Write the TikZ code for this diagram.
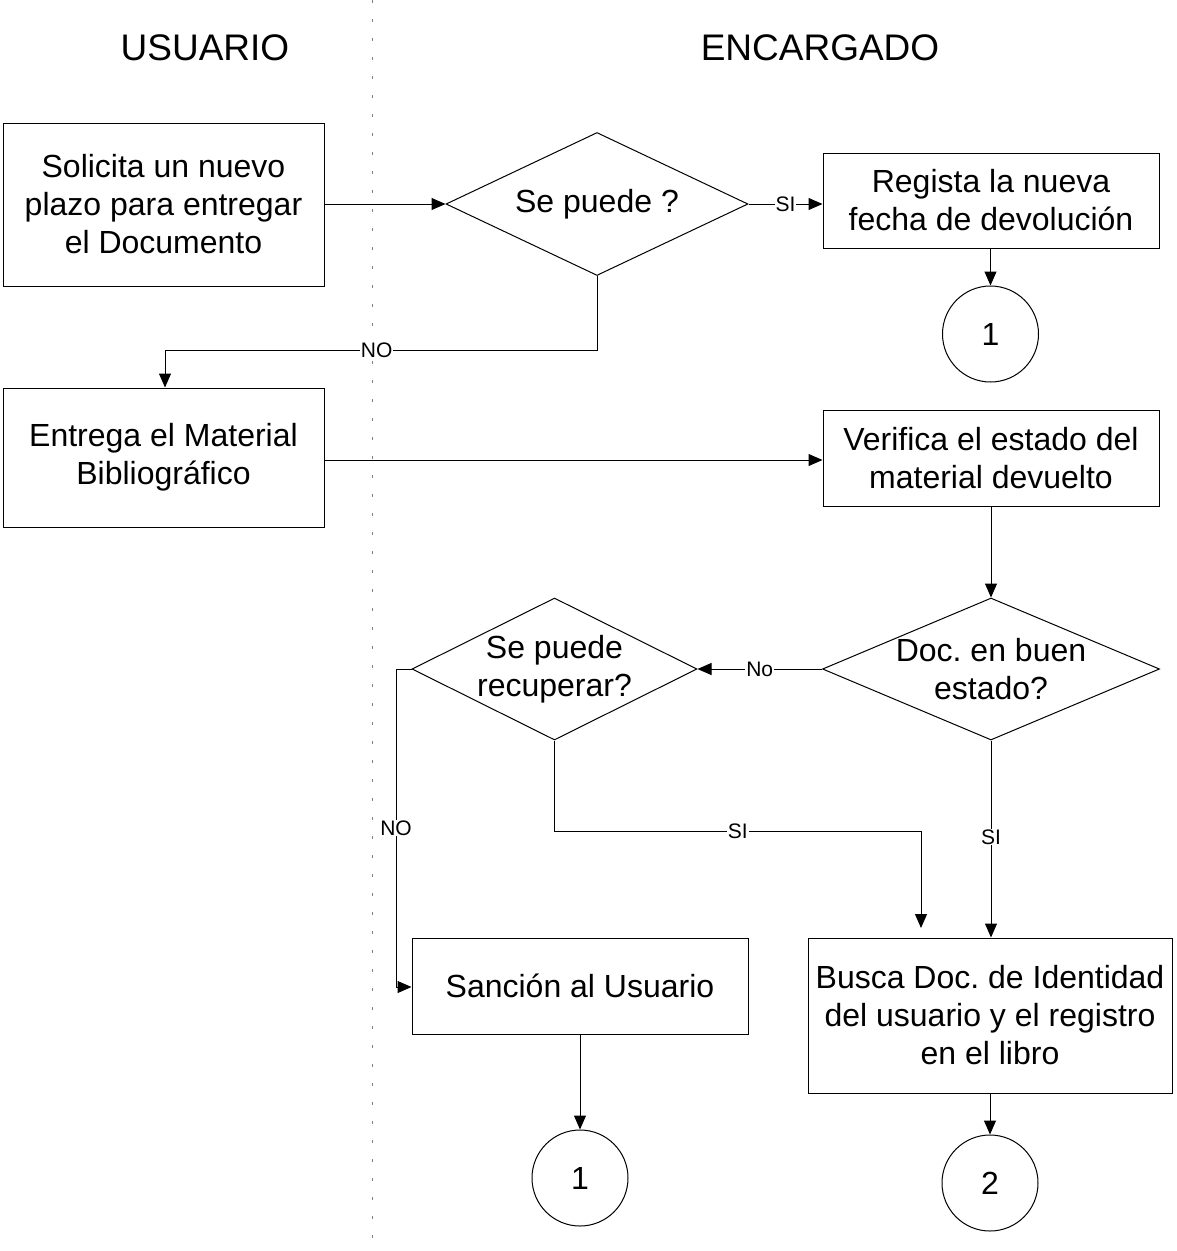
\documentclass[tikz,border=0pt]{standalone}
\usepackage{fontspec}
\setmainfont{Liberation Sans}
\usetikzlibrary{arrows.meta,shapes.geometric}
\frenchspacing

\begin{document}
\begin{tikzpicture}[x=1pt,y=-1pt,
  line width=1pt,
  every node/.style={font=\fontsize{32}{38}\selectfont, align=center},
  procbox/.style={draw, rectangle, inner sep=0pt},
  decision/.style={draw, diamond, inner sep=0pt},
  connector/.style={draw, circle, inner sep=0pt, minimum size=96pt},
  title/.style={font=\fontsize{37}{44}\selectfont},
  lbl/.style={fill=white, inner sep=1pt, font=\fontsize{21}{24}\selectfont},
  flow/.style={-{Triangle[length=14pt,width=12pt]}},
  lane/.style={draw=gray, line width=0.8pt, dash pattern=on 3pt off 16pt}
]
\useasboundingbox (0,0) rectangle (1176,1251);

% lane separator
\draw[lane] (372,0) -- (372,1251);

% lane titles
\node[title] (tuser) at (205,48) {USUARIO};
\node[title] (tenc) at (820,48) {ENCARGADO};

% process boxes
\node[procbox, minimum width=321pt, minimum height=163pt] (solicita) at (163.5,204.5)
  {Solicita un nuevo\\plazo para entregar\\el Documento};
\node[procbox, minimum width=336pt, minimum height=95pt] (registra) at (991,200.5)
  {Regista la nueva\\fecha de devoluci\'on};
\node[procbox, minimum width=321pt, minimum height=139pt] (entrega) at (163.5,457.5)
  {Entrega el Material\\Bibliogr\'afico};
\node[procbox, minimum width=336pt, minimum height=96pt] (verifica) at (991,458)
  {Verifica el estado del\\material devuelto};
\node[procbox, minimum width=336pt, minimum height=96pt] (sancion) at (580,986)
  {Sanci\'on al Usuario};
\node[procbox, minimum width=364pt, minimum height=155pt] (busca) at (990,1015.5)
  {Busca Doc. de Identidad\\del usuario y el registro\\en el libro};

% decisions (text set as a centred label so the outline keeps its size)
\node[decision, minimum width=302pt, minimum height=143pt,
  label={[align=center]center:Se puede ?}] (puede) at (597,204) {};
\node[decision, minimum width=337pt, minimum height=142pt,
  label={[align=center]center:Doc. en buen\\estado?}] (buen) at (991,669) {};
\node[decision, minimum width=285pt, minimum height=142pt,
  label={[align=center]center:Se puede\\recuperar?}] (recup) at (554.5,669) {};

% off-page connectors
\node[connector] (c1a) at (990.5,334) {1};
\node[connector] (c1b) at (580,1178) {1};
\node[connector] (c2) at (990,1183) {2};

% free end of the recovery branch
\coordinate (recupEnd) at (921,928);

% connections
\draw[flow] (solicita.east |- puede.west) -- (puede.west);
\draw[flow] (puede.east) -- node[lbl, pos=0.5] {SI} (registra.west |- puede.east);
\draw[flow] (registra.south -| c1a.north) -- (c1a.north);
\draw[flow] (puede.south) -- (puede.south |- 0,350) -- node[lbl, pos=0.51] {NO} (165,350) -- (entrega.north -| 165,0);
\draw[flow] (entrega.east |- 0,460) -- (verifica.west |- 0,460);
\draw[flow] (verifica.south -| buen.north) -- (buen.north);
\draw[flow] (buen.west) -- node[lbl] {No} (recup.east);
\draw[flow] (buen.south) -- node[lbl, pos=0.49] {SI} (busca.north -| buen.south);
\draw[flow] (recup.south) -- (recup.south |- 0,831) -- node[lbl, pos=0.5] {SI} (recupEnd |- 0,831) -- (recupEnd);
\draw[flow] (recup.west) -- (396,669) -- node[lbl, pos=0.5] {NO} (396,987) -- (sancion.west |- 0,987);
\draw[flow] (sancion.south) -- (c1b.north);
\draw[flow] (busca.south -| c2.north) -- (c2.north);
\end{tikzpicture}
\end{document}
